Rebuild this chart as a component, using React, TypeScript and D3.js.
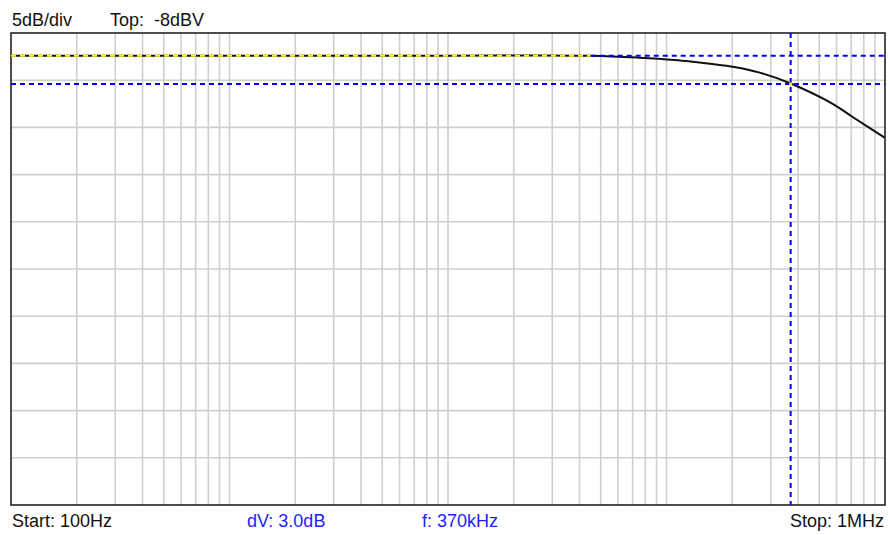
import React from 'react';
import * as d3 from 'd3';

// measured trace (Hz, dBV)
const freqs = [100, 1000, 10000, 45000, 75000, 109000, 132000, 158000, 204000, 267000, 370000, 576000, 711000, 1000000];
const levels = [-10.4, -10.4, -10.4, -10.42, -10.62, -10.86, -11.05, -11.26, -11.6, -12.2, -13.35, -15.5, -16.9, -19.1];

const dbPerDiv = 5;
const topLevel = -8;
const divisions = 10;
const startFreq = 100;
const stopFreq = 1000000;

// markers
const refLevel = -10.4;
const cursorLevel = -13.4;
const cursorFreq = 370000;
const flatEnd = 45000;

const topLabels = ['5dB/div', 'Top:  -8dBV'];
const bottomLabels = ['Start: 100Hz', 'dV: 3.0dB', 'f: 370kHz', 'Stop: 1MHz'];

const W = 888;
const H = 535;
const plot = { left: 11, right: 885, top: 33, bottom: 505 };

const App: React.FC = () => {
  const x = d3.scaleLog().domain([startFreq, stopFreq]).range([plot.left, plot.right]);
  const y = d3.scaleLinear()
    .domain([topLevel - dbPerDiv * divisions, topLevel])
    .range([plot.bottom, plot.top]);

  // vertical grid: 1..9 of each decade
  const vLines: number[] = [];
  for (let dec = startFreq; dec < stopFreq; dec *= 10) {
    for (let m = 1; m < 10; m++) {
      if (dec * m > startFreq) vLines.push(dec * m);
    }
  }
  const hLines = d3.range(1, divisions).map(i => topLevel - i * dbPerDiv);

  const pts = freqs.map((f, i) => [f, levels[i]] as [number, number]);
  const line = d3.line<[number, number]>()
    .x(d => x(d[0]))
    .y(d => y(d[1]))
    .curve(d3.curveCatmullRom.alpha(0.5));

  const font = "'Liberation Sans', Arial, sans-serif";

  return (
    <div style={{ position: 'fixed', left: 0, top: 0 }}>
      <svg width={W} height={H} style={{ display: 'block', background: '#fff' }}>
        <rect x={0} y={0} width={W} height={H} fill="#fff" />
        {vLines.map(f => (
          <line key={'v' + f} x1={x(f)} x2={x(f)} y1={plot.top} y2={plot.bottom}
            stroke="#cfcfcf" strokeWidth={1.6} />
        ))}
        {hLines.map(v => (
          <line key={'h' + v} x1={plot.left} x2={plot.right} y1={y(v)} y2={y(v)}
            stroke="#cfcfcf" strokeWidth={1.6} />
        ))}
        <rect x={plot.left} y={plot.top} width={plot.right - plot.left} height={plot.bottom - plot.top}
          fill="none" stroke="#222" strokeWidth={1.6} />

        {/* trace */}
        <path d={line(pts) || ''} fill="none" stroke="#111" strokeWidth={2} />

        {/* reference level line (xor-style: yellow over trace, blue elsewhere) */}
        <line x1={plot.left} x2={x(flatEnd)} y1={y(refLevel)} y2={y(refLevel)}
          stroke="#ffff00" strokeWidth={2} strokeDasharray="5 4" />
        <line x1={x(flatEnd)} x2={plot.right} y1={y(refLevel) + 0.2} y2={y(refLevel) + 0.2}
          stroke="#0000ff" strokeWidth={2} strokeDasharray="5 4" />
        {/* cursor level line */}
        <line x1={plot.left} x2={plot.right} y1={y(cursorLevel)} y2={y(cursorLevel)}
          stroke="#0000ff" strokeWidth={2} strokeDasharray="5 4" />
        {/* cursor frequency line */}
        <line x1={x(cursorFreq)} x2={x(cursorFreq)} y1={plot.top} y2={plot.bottom}
          stroke="#0000ff" strokeWidth={2} strokeDasharray="5 4" />
        <rect x={x(cursorFreq) - 1.5} y={y(cursorLevel) - 1.5} width={3} height={3} fill="#ffee00" />

        <g fontFamily={font} fontSize={18} fill="#111">
          <text x={12} y={26}>{topLabels[0]}</text>
          <text x={110} y={26} style={{ whiteSpace: 'pre' }}>{topLabels[1]}</text>
          <text x={12} y={527}>{bottomLabels[0]}</text>
          <text x={247} y={527} fill="#1e1eff">{bottomLabels[1]}</text>
          <text x={422} y={527} fill="#1e1eff">{bottomLabels[2]}</text>
          <text x={884} y={527} textAnchor="end">{bottomLabels[3]}</text>
        </g>
      </svg>
    </div>
  );
};

export default App;
